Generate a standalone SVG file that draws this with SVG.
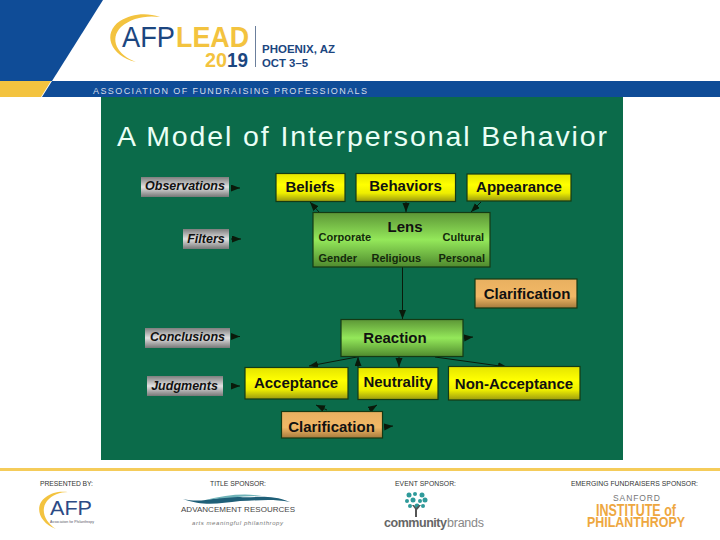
<svg xmlns="http://www.w3.org/2000/svg" width="720" height="540" viewBox="0 0 720 540">
<style>
text{font-family:"Liberation Sans",Arial,sans-serif}
.b{font-weight:bold;fill:#111;text-anchor:middle;font-size:15px}
.box{stroke:#143a14;stroke-width:1.2}
.lbl{font-weight:bold;font-style:italic;fill:#111;font-size:12.5px;text-anchor:middle}
.sm{font-weight:bold;fill:#142a0c;font-size:11px}
.conn line{stroke:#0a1a0a;stroke-width:1;marker-end:url(#h)}
.foot{font-size:6.8px;fill:#333}
</style>
<defs>
<marker id="h" markerUnits="userSpaceOnUse" markerWidth="10" markerHeight="8" refX="9" refY="3.500" orient="auto"><path d="M0 0L9 3.500L0 7Z" fill="#0a1a0a"/></marker>
<linearGradient id="y" x1="0" y1="0" x2="0" y2="1"><stop offset="0" stop-color="#e4e400"/><stop offset=".4" stop-color="#ffff00"/><stop offset=".7" stop-color="#eeee00"/><stop offset="1" stop-color="#9a9a10"/></linearGradient>
<linearGradient id="g" x1="0" y1="0" x2="0" y2="1"><stop offset="0" stop-color="#5c9636"/><stop offset=".5" stop-color="#94e85a"/><stop offset="1" stop-color="#4f8a2e"/></linearGradient>
<linearGradient id="o" x1="0" y1="0" x2="0" y2="1"><stop offset="0" stop-color="#e8b060"/><stop offset=".6" stop-color="#f2b866"/><stop offset="1" stop-color="#a67a3c"/></linearGradient>
<linearGradient id="s" x1="0" y1="0" x2="0" y2="1"><stop offset="0" stop-color="#7e7e7e"/><stop offset=".5" stop-color="#e2e2e2"/><stop offset="1" stop-color="#777"/></linearGradient>
</defs>
<rect width="720" height="540" fill="#fff"/>
<g id="header">
<path d="M0 0H103L52 81H0Z" fill="#0f4c97"/>
<path d="M52 81H720V97H42Z" fill="#0f4c97"/>
<path d="M0 81H51L41 97H0Z" fill="#f3c33f"/>
<path d="M136 62C110 56 102 33 120 21C131 14 146 12 160 17C146 15 131 18 121 27C109 39 117 55 136 62Z" fill="#f3c33f"/>
<text x="122" y="46.500" font-size="29" fill="#1c4680" textLength="53" lengthAdjust="spacingAndGlyphs">AFP</text>
<text x="176" y="46.500" font-size="29" font-weight="bold" fill="#f3c33f" textLength="73" lengthAdjust="spacingAndGlyphs">LEAD</text>
<text x="205" y="67" font-size="20" font-weight="bold" fill="#f3c33f" textLength="22" lengthAdjust="spacingAndGlyphs">20</text>
<text x="227" y="67" font-size="20" font-weight="bold" fill="#1c4680" textLength="21" lengthAdjust="spacingAndGlyphs">19</text>
<rect x="255" y="26" width="1" height="41" fill="#6b7f9c"/>
<text x="262" y="53" font-size="11.500" font-weight="bold" fill="#1c4680" textLength="73" lengthAdjust="spacingAndGlyphs">PHOENIX, AZ</text>
<text x="262" y="67" font-size="11.500" font-weight="bold" fill="#1c4680" textLength="46" lengthAdjust="spacingAndGlyphs">OCT 3–5</text>
<text x="93" y="93.500" font-size="9" fill="#d5dde9" textLength="274" lengthAdjust="spacing">ASSOCIATION OF FUNDRAISING PROFESSIONALS</text>
</g>
<rect id="panel" x="101" y="97" width="522" height="363" fill="#0b6b4a"/>
<text id="title" x="117" y="146" font-size="28.500" fill="#eafff6" textLength="490" lengthAdjust="spacing">A Model of Interpersonal Behavior</text>
<g class="conn" id="connectors">
<line x1="231" y1="188" x2="240" y2="188"/>
<line x1="231" y1="239" x2="241" y2="239"/>
<line x1="231" y1="336.500" x2="240" y2="336.500"/>
<line x1="232" y1="386" x2="240" y2="386"/>
<line x1="319" y1="212" x2="310" y2="202"/>
<line x1="406" y1="202" x2="406" y2="212"/>
<line x1="481" y1="202" x2="471" y2="212"/>
<line x1="402.500" y1="267" x2="402.500" y2="319"/>
<line x1="464" y1="338" x2="473" y2="337"/>
<line x1="357" y1="357" x2="309" y2="366"/>
<line x1="358" y1="367" x2="358" y2="357"/>
<line x1="399" y1="357" x2="399" y2="367"/>
<line x1="435" y1="357" x2="507" y2="367"/>
<line x1="327" y1="410" x2="316" y2="405"/>
<line x1="369" y1="410" x2="377" y2="405"/>
<line x1="384" y1="427" x2="393" y2="426"/>
</g>
<g id="observations"><rect x="141" y="177" width="88" height="20" fill="url(#s)"/><text class="lbl" x="185" y="190">Observations</text></g>
<g id="filters"><rect x="183" y="229" width="46" height="20" fill="url(#s)"/><text class="lbl" x="206" y="242.500">Filters</text></g>
<g id="conclusions"><rect x="145" y="328" width="85" height="20" fill="url(#s)"/><text class="lbl" x="187.500" y="341">Conclusions</text></g>
<g id="judgments"><rect x="147" y="376" width="76" height="20" fill="url(#s)"/><text class="lbl" x="184.500" y="389.500">Judgments</text></g>
<g id="beliefs"><rect class="box" x="276" y="173.500" width="69" height="28" fill="url(#y)"/><text class="b" x="310" y="191.500">Beliefs</text></g>
<g id="behaviors"><rect class="box" x="356" y="173.500" width="99.500" height="28" fill="url(#y)"/><text class="b" x="405.500" y="191">Behaviors</text></g>
<g id="appearance"><rect class="box" x="467" y="174" width="104" height="27" fill="url(#y)"/><text class="b" x="519" y="192">Appearance</text></g>
<g id="lens"><rect class="box" x="313" y="212.500" width="177" height="54.500" fill="url(#g)"/>
<text class="b" x="405" y="232">Lens</text>
<text class="sm" x="318.500" y="241">Corporate</text><text class="sm" x="442.500" y="241">Cultural</text>
<text class="sm" x="318.500" y="262">Gender</text><text class="sm" x="371.500" y="262">Religious</text><text class="sm" x="438.500" y="262">Personal</text></g>
<g id="clarification-right"><rect class="box" x="475" y="279" width="102" height="29" fill="url(#o)"/><text class="b" x="527" y="299">Clarification</text></g>
<g id="reaction"><rect class="box" x="341" y="319.500" width="122" height="37" fill="url(#g)"/><text class="b" x="395" y="343">Reaction</text></g>
<g id="acceptance"><rect class="box" x="245" y="367.500" width="103" height="31.500" fill="url(#y)"/><text class="b" x="296" y="388">Acceptance</text></g>
<g id="neutrality"><rect class="box" x="358" y="367.500" width="80" height="32" fill="url(#y)"/><text class="b" x="398" y="387">Neutrality</text></g>
<g id="non-acceptance"><rect class="box" x="448.500" y="366.500" width="131.500" height="33.500" fill="url(#y)"/><text class="b" x="514" y="388.500">Non-Acceptance</text></g>
<g id="clarification-bottom"><rect class="box" x="281.500" y="411.500" width="101" height="26.500" fill="url(#o)"/><text class="b" x="331.500" y="432">Clarification</text></g>
<g id="footer">
<rect x="0" y="468" width="720" height="3" fill="#f5cc5a"/>
<text class="foot" x="40" y="486" textLength="53" lengthAdjust="spacing">PRESENTED BY:</text>
<text class="foot" x="210" y="486" textLength="56" lengthAdjust="spacing">TITLE SPONSOR:</text>
<text class="foot" x="395" y="486" textLength="61" lengthAdjust="spacing">EVENT SPONSOR:</text>
<text class="foot" x="571" y="486" textLength="127" lengthAdjust="spacing">EMERGING FUNDRAISERS SPONSOR:</text>
<path d="M56 529C38 522 34 505 46 497C52 492 60 491 68 492C60 492 52 495 47 501C40 510 45 522 56 529Z" fill="#f3c33f"/>
<text x="50" y="515" font-size="21" fill="#2c4a85" textLength="42" lengthAdjust="spacingAndGlyphs">AFP</text>
<text x="50" y="523" font-size="3.500" fill="#556" textLength="44" lengthAdjust="spacing">Association for Philanthropy</text>
<path d="M183 499C205 504 218 495 240 497C255 498 270 494 290 502C270 498 255 501 240 501C220 503 205 507 183 499Z" fill="#1f5f78"/>
<path d="M205 500C225 495 245 493 262 496C245 496 225 498 205 500Z" fill="#6fb3b8"/>
<text x="181" y="512" font-size="8" fill="#444" textLength="114" lengthAdjust="spacing">ADVANCEMENT RESOURCES</text>
<text x="192" y="525" font-size="6" font-style="italic" fill="#777" textLength="91" lengthAdjust="spacing">arts meaningful philanthropy</text>
<g fill="#2f9a9a"><circle cx="409" cy="495" r="2.500"/><circle cx="415" cy="494" r="2"/><circle cx="422" cy="495" r="2.500"/><circle cx="407" cy="501" r="2"/><circle cx="413" cy="500" r="2.500"/><circle cx="420" cy="501" r="2"/><circle cx="425" cy="500" r="2.500"/><circle cx="410" cy="506" r="2"/><circle cx="417" cy="506" r="2.500"/><circle cx="423" cy="506" r="2"/></g>
<path d="M415 509L412 505L414 505L416 508L419 505L421 505L417 510V517H415Z" fill="#555"/>
<text x="384" y="527" font-size="12.500" font-weight="bold" fill="#666" textLength="63" lengthAdjust="spacing">community</text>
<text x="447" y="527" font-size="12.500" fill="#888" textLength="37" lengthAdjust="spacing">brands</text>
<text x="613" y="501" font-size="8.500" fill="#777" textLength="47" lengthAdjust="spacing">SANFORD</text>
<text x="596" y="516" font-size="16" font-weight="bold" fill="#eea73f" textLength="80" lengthAdjust="spacingAndGlyphs">INSTITUTE of</text>
<text x="587" y="527" font-size="15" font-weight="bold" fill="#eea73f" textLength="98" lengthAdjust="spacingAndGlyphs">PHILANTHROPY</text>
</g>
</svg>
